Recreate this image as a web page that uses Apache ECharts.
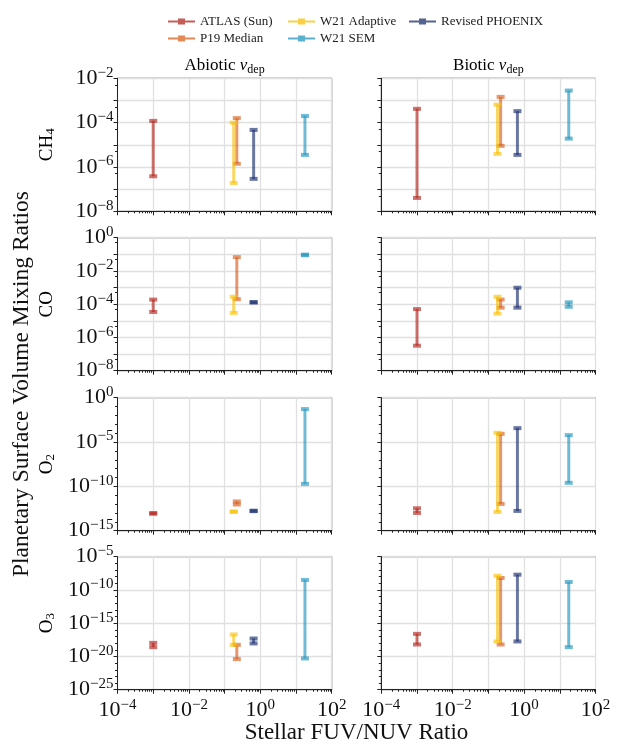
<!DOCTYPE html>
<html>
<head>
<meta charset="utf-8">
<script src="https://cdn.jsdelivr.net/npm/echarts@6/dist/echarts.min.js"></script>
<style>
  html, body { margin: 0; padding: 0; background: #fff; }
  #chart { width: 617px; height: 747px; }
</style>
</head>
<body>
<div id="chart"></div>
<script>
// sources, in legend (column-major) order
var sources = ['ATLAS (Sun)', 'P19 Median', 'W21 Adaptive', 'W21 SEM', 'Revised PHOENIX'];
var colors = ['#b3261e', '#d9601f', '#f7c20a', '#2496bd', '#1c2f6e'];
// stellar FUV/NUV ratio of each source
var fuvNuv = [1.0e-3, 0.22, 0.18, 17.8, 0.65];

// [low, high] mixing ratios, same order as sources
var ch4Abiotic = [[3.8e-7, 1.2e-4], [1.4e-6, 1.6e-4], [1.9e-7, 1.0e-4], [3.5e-6, 2.0e-4], [2.9e-7, 4.7e-5]];
var ch4Biotic  = [[4.0e-8, 4.2e-4], [9.0e-6, 1.45e-3], [3.9e-6, 6.5e-4], [1.9e-5, 2.8e-3], [3.5e-6, 3.3e-4]];
var coAbiotic  = [[3.4e-5, 1.9e-4], [2.0e-4, 6.8e-2], [3.0e-5, 2.8e-4], [8.8e-2, 9.6e-2], [1.25e-4, 1.35e-4]];
var coBiotic   = [[3.2e-7, 5.1e-5], [6.2e-5, 1.9e-4], [2.7e-5, 2.8e-4], [7.0e-5, 1.3e-4], [6.2e-5, 9.8e-4]];
var o2Abiotic  = [[8.0e-14, 1.0e-13], [9.0e-13, 2.0e-12], [1.3e-13, 1.5e-13], [1.9e-10, 5.2e-2], [1.6e-13, 1.8e-13]];
var o2Biotic   = [[1.0e-13, 3.4e-13], [1.05e-12, 8.5e-5], [1.3e-13, 1.1e-4], [2.5e-10, 6.0e-5], [1.7e-13, 3.7e-4]];
var o3Abiotic  = [[2.5e-19, 1.1e-18], [4.0e-21, 5.6e-19], [5.6e-19, 2.0e-17], [5.0e-21, 3.2e-9], [9.0e-19, 5.0e-18]];
var o3Biotic   = [[6.3e-19, 2.5e-17], [6.3e-19, 6.3e-9], [1.8e-18, 1.4e-8], [2.5e-19, 1.6e-9], [1.8e-18, 2.0e-8]];

var panels = [ch4Abiotic, ch4Biotic, coAbiotic, coBiotic, o2Abiotic, o2Biotic, o3Abiotic, o3Biotic];
var speciesMain = ['CH', 'CO', 'O', 'O'];
var speciesSub = ['4', '', '2', '3'];
// y axis ranges (log10) per row
var yMin = [-8, -8, -15, -25];
var yMax = [-2, 0, 0, -5];
var yLabelEvery = [2, 2, 5, 5];
var yGridEvery = [1, 1, 5, 5];

var FONT = 'Liberation Serif';
var lefts = [117.5, 381.3];
var tops = [78.3, 237.7, 397.7, 556.7];
var W = 214.2, H = 133;

function sup(v) {
  return '{b|10}{s|' + (v < 0 ? '\u2212' + (-v) : v) + '}';
}
var richLabel = {
  b: { fontFamily: FONT, fontSize: 22, color: '#111' },
  s: { fontFamily: FONT, fontSize: 15, color: '#111', padding: [0, 0, 11, 0] }
};

function range(a, b, step) {
  var out = [];
  for (var v = a; v <= b + 1e-9; v += step) out.push(Math.round(v * 1000) / 1000);
  return out;
}
function minorLog(a, b) {
  var out = [];
  for (var n = a; n < b; n++) {
    for (var k = 2; k <= 9; k++) out.push(n + Math.log10(k));
  }
  return out;
}

var grids = [], xAxes = [], yAxes = [], series = [];
for (var i = 0; i < 8; i++) {
  var r = Math.floor(i / 2), c = i % 2;
  grids.push({
    left: lefts[c], top: tops[r], width: W, height: H,
    show: true, borderColor: '#222', borderWidth: 1, backgroundColor: 'transparent'
  });
  // main x axis
  xAxes.push({
    type: 'value', gridIndex: i, min: -4, max: 2, interval: 1,
    axisLine: { show: true, onZero: false, lineStyle: { color: '#222', width: 1 } },
    axisTick: { show: true, length: 4, lineStyle: { color: '#222' } },
    axisLabel: {
      show: r === 3, margin: 8,
      formatter: function (v) { return v % 2 === 0 ? sup(v) : ''; },
      rich: richLabel
    },
    splitLine: { show: true, lineStyle: { color: '#e0e0e0', width: 1.3 } }
  });
  // minor x ticks
  xAxes.push({
    type: 'value', gridIndex: i, min: -4, max: 2, position: 'bottom',
    axisLine: { show: false, onZero: false },
    axisTick: { show: true, length: 2, customValues: minorLog(-4, 2), lineStyle: { color: '#222' } },
    axisLabel: { show: false },
    splitLine: { show: false }
  });
  (function (r, c) {
    yAxes.push({
      type: 'value', gridIndex: i, min: yMin[r], max: yMax[r], interval: yGridEvery[r],
      axisLine: { show: true, onZero: false, lineStyle: { color: '#222', width: 1 } },
      axisTick: { show: true, length: 4, lineStyle: { color: '#222' } },
      axisLabel: {
        show: c === 0, margin: 4,
        formatter: function (v) { return v % yLabelEvery[r] === 0 ? sup(v) : ''; },
        rich: richLabel
      },
      splitLine: { show: true, lineStyle: { color: '#e0e0e0', width: 1.3 } }
    });
    var minor = yGridEvery[r] === 1
      ? range(yMin[r] + 1 - Math.log10(2), yMax[r], 1)
      : range(yMin[r], yMax[r], 1).filter(function (v) { return v % 5 !== 0; });
    yAxes.push({
      type: 'value', gridIndex: i, min: yMin[r], max: yMax[r], position: 'left',
      axisLine: { show: false, onZero: false },
      axisTick: { show: true, length: 2.5, customValues: minor, lineStyle: { color: '#222' } },
      axisLabel: { show: false },
      splitLine: { show: false }
    });
  })(r, c);

  var vals = panels[i];
  for (var s = 0; s < sources.length; s++) {
    series.push({
      name: sources[s],
      type: 'custom',
      xAxisIndex: i * 2, yAxisIndex: i * 2,
      color: colors[s],
      itemStyle: { color: colors[s] },
      data: [[Math.log10(fuvNuv[s]), Math.log10(vals[s][0]), Math.log10(vals[s][1])]],
      renderItem: (function (col) {
        return function (params, api) {
          var lo = api.coord([api.value(0), api.value(1)]);
          var hi = api.coord([api.value(0), api.value(2)]);
          var cw = 8, ch = 4;
          return {
            type: 'group',
            children: [
              { type: 'line', shape: { x1: lo[0], y1: lo[1], x2: hi[0], y2: hi[1] },
                style: { stroke: col, lineWidth: 3, opacity: 0.65 } },
              { type: 'rect', shape: { x: hi[0] - cw / 2, y: hi[1] - ch / 2, width: cw, height: ch },
                style: { fill: col, opacity: 0.65 } },
              { type: 'rect', shape: { x: lo[0] - cw / 2, y: lo[1] - ch / 2, width: cw, height: ch },
                style: { fill: col, opacity: 0.65 } }
            ]
          };
        };
      })(colors[s])
    });
  }
}

// legends: matplotlib column-major layout, 3 columns
var legendPos = [[168, 15], [168, 32], [288, 15], [288, 32], [409, 15]];
var legends = sources.map(function (name, k) {
  return {
    data: [name], left: legendPos[k][0], top: legendPos[k][1], padding: 0,
    itemWidth: 27, itemHeight: 6, itemGap: 5,
    icon: 'path://M0,2 L27,2 L27,4 L0,4 Z M10,0 L17,0 L17,6 L10,6 Z',
    itemStyle: { opacity: 0.75 },
    textStyle: { fontFamily: FONT, fontSize: 13, color: '#222' },
    selectedMode: false
  };
});

var graphics = [];
var titleRich = {
  a: { fontFamily: FONT, fontSize: 17, color: '#111' },
  i: { fontFamily: FONT, fontSize: 17, fontStyle: 'italic', color: '#111' },
  d: { fontFamily: FONT, fontSize: 12, color: '#111', padding: [7, 0, 0, 0] }
};
graphics.push({ type: 'text', x: lefts[0] + W / 2, y: 66,
  style: { text: '{a|Abiotic }{i|v}{d|dep}', rich: titleRich, align: 'center', verticalAlign: 'middle' } });
graphics.push({ type: 'text', x: lefts[1] + W / 2, y: 66,
  style: { text: '{a|Biotic }{i|v}{d|dep}', rich: titleRich, align: 'center', verticalAlign: 'middle' } });

var rowRich = {
  a: { fontFamily: FONT, fontSize: 19, color: '#111' },
  d: { fontFamily: FONT, fontSize: 13, color: '#111', padding: [8, 0, 0, 0] }
};
for (var r2 = 0; r2 < 4; r2++) {
  graphics.push({
    type: 'text', x: 47, y: tops[r2] + H / 2, rotation: Math.PI / 2,
    style: {
      text: '{a|' + speciesMain[r2] + '}' + (speciesSub[r2] ? '{d|' + speciesSub[r2] + '}' : ''),
      rich: rowRich, align: 'center', verticalAlign: 'middle'
    }
  });
}
graphics.push({
  type: 'text', x: 22, y: (tops[0] + tops[3] + H) / 2, rotation: Math.PI / 2,
  style: { text: 'Planetary Surface Volume Mixing Ratios', fontFamily: FONT, fontSize: 23.5,
    fill: '#111', align: 'center', verticalAlign: 'middle' }
});
graphics.push({
  type: 'text', x: (lefts[0] + lefts[1] + W) / 2, y: 733,
  style: { text: 'Stellar FUV/NUV Ratio', fontFamily: FONT, fontSize: 23,
    fill: '#111', align: 'center', verticalAlign: 'middle' }
});

var chart = echarts.init(document.getElementById('chart'), null, { renderer: 'canvas' });
chart.setOption({
  animation: false,
  backgroundColor: '#fff',
  legend: legends,
  grid: grids,
  xAxis: xAxes,
  yAxis: yAxes,
  series: series,
  graphic: graphics
});
</script>
</body>
</html>
